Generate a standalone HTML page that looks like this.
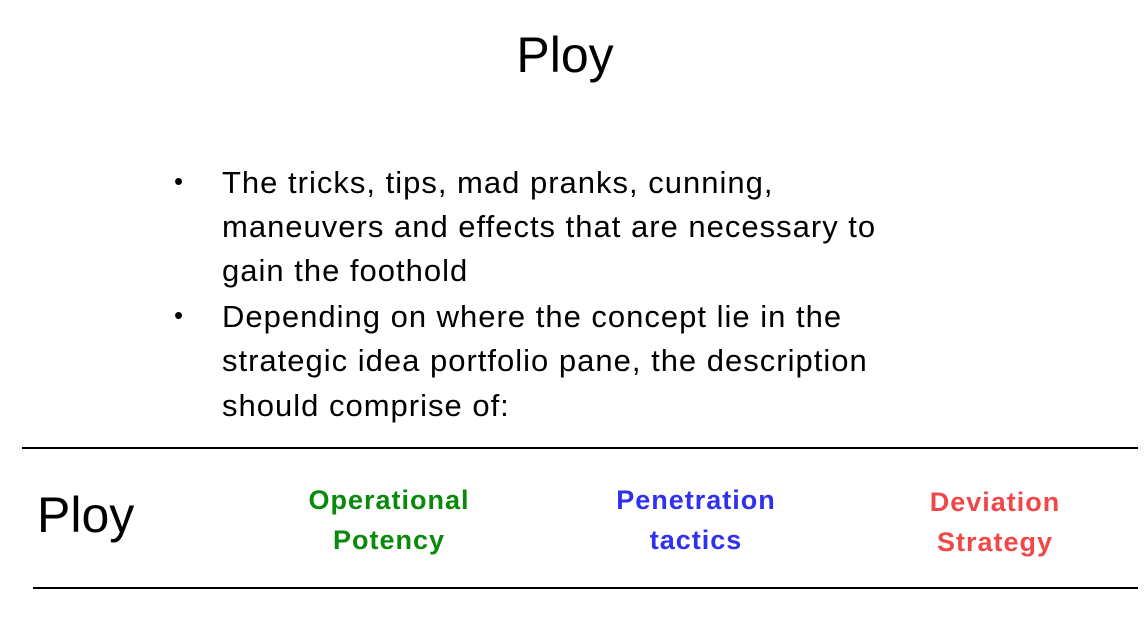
<!DOCTYPE html>
<html><head><meta charset="utf-8"><style>
body{margin:0;width:1148px;height:625px;background:#fff;position:relative;overflow:hidden;font-family:"Liberation Sans",sans-serif;color:#000}
.a{position:absolute;white-space:nowrap}
.l{font-size:31px;left:222px;letter-spacing:1px}
.b{font-size:26px;left:174px}
.c{font-size:27px;font-weight:bold;text-align:center;width:300px;line-height:40px;letter-spacing:1px}
.hr{position:absolute;height:2px;background:#000}
</style></head><body>
<div class="a" style="left:0;width:1130px;text-align:center;top:26px;font-size:50px">Ploy</div>
<div class="a b" style="top:166px">•</div>
<div class="a l" style="top:165px">The tricks, tips, mad pranks, cunning,</div>
<div class="a l" style="top:209px">maneuvers and effects that are necessary to</div>
<div class="a l" style="top:253px">gain the foothold</div>
<div class="a b" style="top:300px">•</div>
<div class="a l" style="top:299px">Depending on where the concept lie in the</div>
<div class="a l" style="top:343px">strategic idea portfolio pane, the description</div>
<div class="a l" style="top:388px">should comprise of:</div>
<div class="hr" style="left:22px;width:1116px;top:447px"></div>
<div class="hr" style="left:33px;width:1105px;top:587px"></div>
<div class="a" style="left:37px;top:486px;font-size:50px">Ploy</div>
<div class="a c" style="left:239px;top:480px;color:#0a8a0a">Operational<br>Potency</div>
<div class="a c" style="left:546px;top:480px;color:#3030f0">Penetration<br>tactics</div>
<div class="a c" style="left:845px;top:482px;color:#f04848">Deviation<br>Strategy</div>
</body></html>
